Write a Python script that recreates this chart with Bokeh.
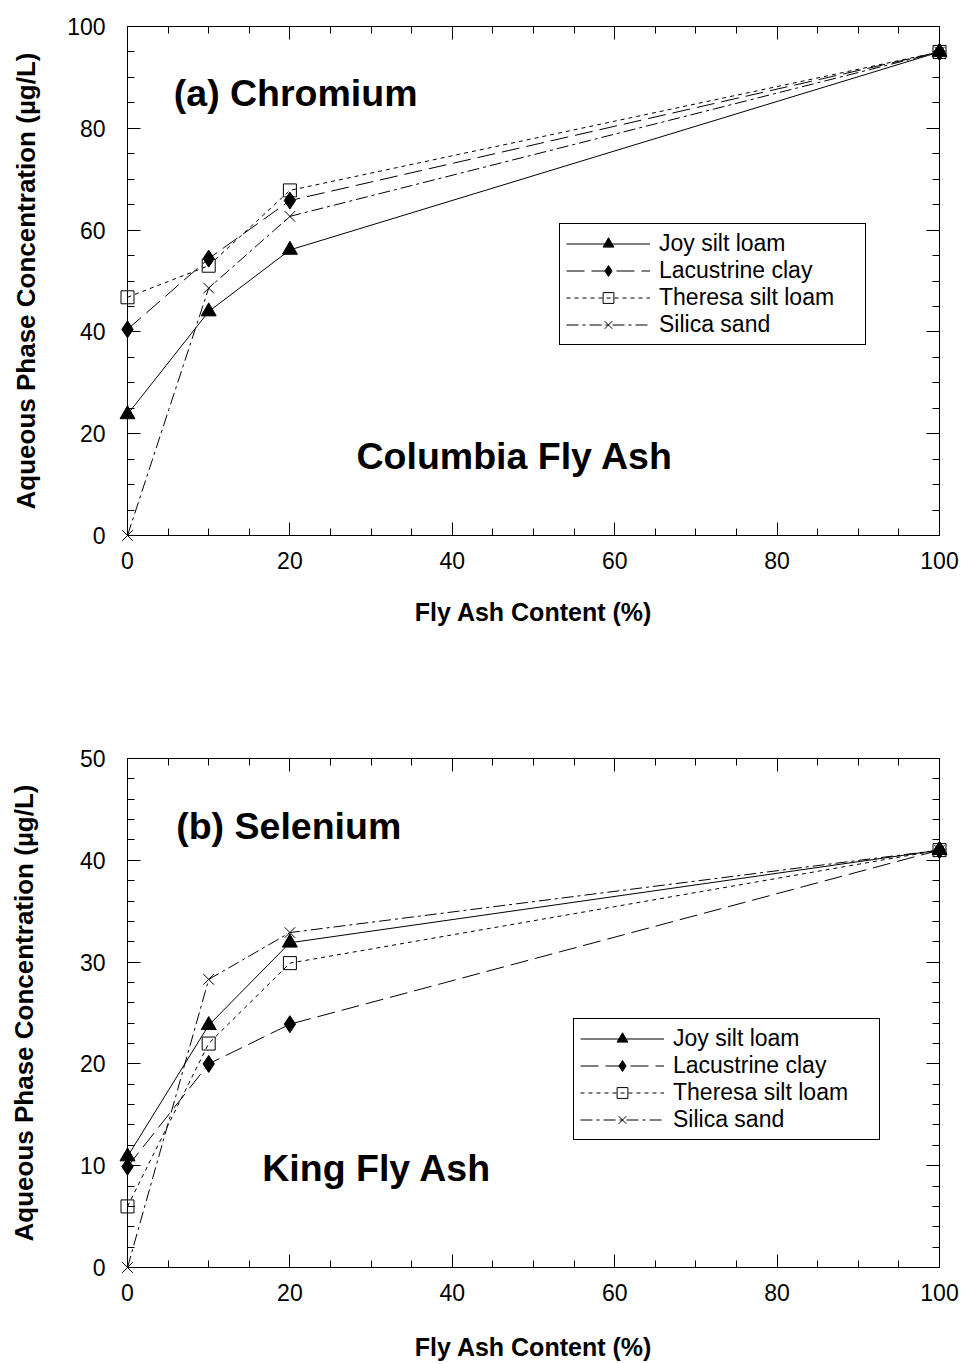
from bokeh.plotting import figure
from bokeh.models import (LinearAxis, SingleIntervalTicker, Range1d, Label,
                          Legend, LegendItem)
from bokeh.layouts import column
from bokeh.embed import file_html
from bokeh.resources import INLINE

# ---------------- data ----------------
fly_ash_pct = [0, 10, 20, 100]

series_names = ["Joy silt loam", "Lacustrine clay", "Theresa silt loam", "Silica sand"]

# (a) Chromium - Columbia Fly Ash
cr_joy = [23.8, 44.0, 56.1, 95.0]
cr_lacustrine = [40.5, 54.4, 65.8, 95.0]
cr_theresa = [46.8, 53.0, 67.8, 95.0]
cr_silica = [0.0, 48.6, 62.7, 95.0]

# (b) Selenium - King Fly Ash
se_joy = [10.9, 23.8, 31.9, 41.0]
se_lacustrine = [9.9, 20.0, 23.9, 41.0]
se_theresa = [6.0, 22.0, 29.9, 41.0]
se_silica = [0.0, 28.3, 32.9, 41.0]

FONT = "Liberation Sans"

styles = [
    dict(dash="solid", marker="triangle", size=15, fill="black"),
    dict(dash="18 7", marker="diamond", size=17, fill="black"),
    dict(dash="4 4", marker="square", size=13, fill=None),
    dict(dash="12 4 3 4", marker="x", size=15, fill=None),
]


def style_axis(ax, show_labels, standoff=20):
    ax.axis_line_color = "black"
    ax.axis_line_width = 1
    ax.major_tick_in = 13
    ax.major_tick_out = 0
    ax.minor_tick_in = 7
    ax.minor_tick_out = 0
    ax.major_tick_line_color = "black"
    ax.minor_tick_line_color = "black"
    ax.major_label_text_font = FONT
    if show_labels:
        ax.major_label_text_color = "black"
        ax.major_label_text_font_size = "23px"
        ax.major_label_standoff = standoff
    else:
        ax.major_label_text_color = None
        ax.major_label_text_font_size = "1px"
        ax.major_label_standoff = 0
    ax.axis_label_text_font = FONT
    ax.axis_label_text_font_style = "bold"
    ax.axis_label_text_color = "black"


def make_panel(series, ymax, ystep, yminor, height, borders, ylabel_standoff,
               xlabel_standoff, legend_loc, title_text, title_pos,
               sub_text, sub_pos):
    bl, br, bt, bb = borders
    p = figure(width=964, height=height,
               x_range=Range1d(0, 100), y_range=Range1d(0, ymax),
               output_backend="svg", toolbar_location=None,
               x_axis_type=None, y_axis_type=None,
               min_border_left=bl, min_border_right=br,
               min_border_top=bt, min_border_bottom=bb)
    p.outline_line_color = "black"
    p.background_fill_color = "white"
    p.border_fill_color = "white"

    xt = SingleIntervalTicker(interval=20, num_minor_ticks=4)
    yt = SingleIntervalTicker(interval=ystep, num_minor_ticks=yminor)

    xb = LinearAxis(ticker=xt, axis_label="Fly Ash Content (%)")
    style_axis(xb, True, standoff=16)
    xb.axis_label_text_font_size = "25px"
    xb.axis_label_standoff = xlabel_standoff
    p.add_layout(xb, "below")

    yl = LinearAxis(ticker=yt, axis_label="Aqueous Phase Concentration (µg/L)")
    style_axis(yl, True, standoff=22)
    yl.axis_label_text_font_size = "26px"
    yl.axis_label_standoff = ylabel_standoff
    p.add_layout(yl, "left")

    xa = LinearAxis(ticker=xt)
    style_axis(xa, False)
    p.add_layout(xa, "above")

    yr = LinearAxis(ticker=yt)
    style_axis(yr, False)
    p.add_layout(yr, "right")

    items = []
    for name, ys, st in zip(series_names, series, styles):
        lr = p.line(fly_ash_pct, ys, line_color="black", line_width=1,
                    line_dash=st["dash"])
        sr = p.scatter(fly_ash_pct, ys, marker=st["marker"], size=st["size"],
                       line_color="black", line_width=1,
                       fill_color=st["fill"], level="overlay")
        items.append(LegendItem(label=name, renderers=[lr, sr]))

    leg = Legend(items=items, location=legend_loc)
    leg.border_line_color = "black"
    leg.border_line_width = 1
    leg.border_line_alpha = 1
    leg.background_fill_color = "white"
    leg.background_fill_alpha = 1
    leg.label_text_font = FONT
    leg.label_text_font_size = "23px"
    leg.label_text_color = "black"
    leg.glyph_width = 84
    leg.glyph_height = 27
    leg.label_height = 22
    leg.label_width = 200
    leg.spacing = 0
    leg.padding = 6
    leg.margin = 0
    leg.label_standoff = 9
    p.add_layout(leg)

    for txt, pos in ((title_text, title_pos), (sub_text, sub_pos)):
        p.add_layout(Label(x=pos[0], y=pos[1], text=txt,
                           text_font=FONT, text_font_style="bold",
                           text_font_size="37.5px", text_color="black",
                           text_baseline="alphabetic", text_align="left"))
    return p


top = make_panel([cr_joy, cr_lacustrine, cr_theresa, cr_silica],
                 100, 20, 4, 680, (125, 25, 26, 145), 23, 26,
                 (432, 190), "(a) Chromium", (5.7, 87.0),
                 "Columbia Fly Ash", (28.2, 15.6))

bottom = make_panel([se_joy, se_lacustrine, se_theresa, se_silica],
                    50, 10, 5, 684, (127, 23, 78, 97), 38, 29,
                    (446, 127), "(b) Selenium", (6.0, 43.4),
                    "King Fly Ash", (16.6, 9.8))

layout = column(top, bottom, spacing=0)

open("out.html", "w").write(file_html(layout, INLINE))
